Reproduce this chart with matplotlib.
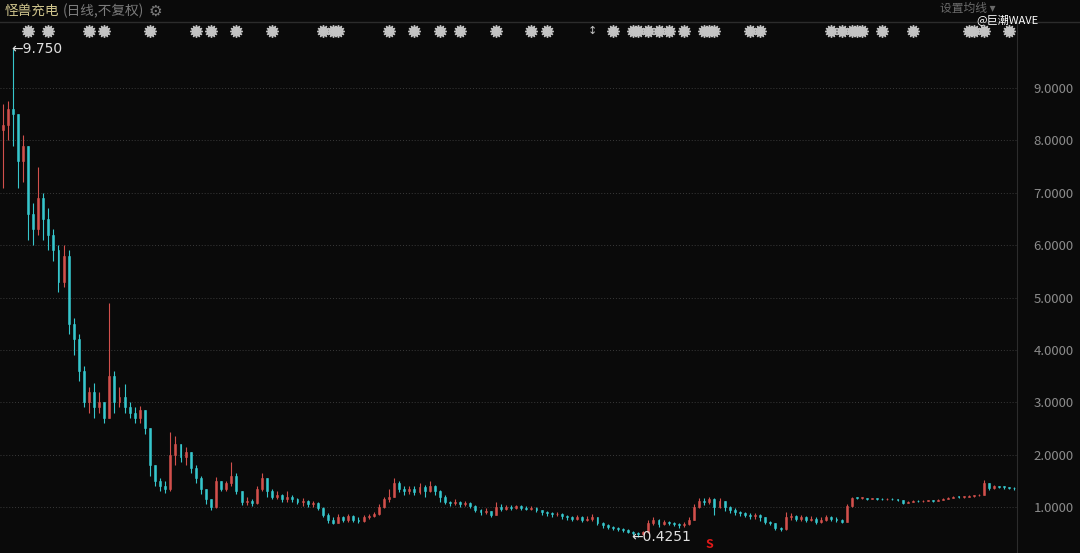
import matplotlib
matplotlib.use("Agg")
import matplotlib.pyplot as plt
from matplotlib.patches import Rectangle

plt.rcParams['font.family'] = ['Noto Sans CJK SC', 'DejaVu Sans']

# daily candles (sampled), open = previous close
first_open = 8.2
closes = [
    8.3, 8.6, 8.5, 7.6, 7.9, 6.6, 6.3, 6.9, 6.5, 6.2,
    5.9, 5.3, 5.8, 4.5, 4.2, 3.6, 3.0, 3.2, 2.9, 3.0,
    2.7, 3.5, 3.0, 3.1, 2.9, 2.8, 2.7, 2.85, 2.5, 1.8,
    1.5, 1.4, 1.35, 2.0, 2.2, 1.95, 2.05, 1.75, 1.55, 1.35,
    1.15, 1.0, 1.5, 1.35, 1.45, 1.6, 1.3, 1.1, 1.12, 1.08,
    1.35, 1.55, 1.3, 1.2, 1.22, 1.15, 1.2, 1.15, 1.1, 1.12,
    1.05, 1.08, 0.98, 0.85, 0.75, 0.7, 0.8, 0.75, 0.82, 0.76,
    0.73, 0.8, 0.83, 0.86, 1.0, 1.15, 1.2, 1.45, 1.35, 1.3,
    1.35, 1.28, 1.38, 1.3, 1.4, 1.3, 1.2, 1.1, 1.08, 1.1,
    1.05, 1.08, 1.02, 0.95, 0.9, 0.92, 0.85, 1.0, 0.97, 1.0,
    0.98, 1.01, 0.99, 0.97, 0.98, 0.94, 0.9, 0.88, 0.86, 0.87,
    0.82, 0.8, 0.78, 0.8, 0.76, 0.78, 0.8, 0.7, 0.65, 0.62,
    0.6, 0.58, 0.56, 0.53, 0.5, 0.48, 0.52, 0.7, 0.75, 0.68,
    0.72, 0.7, 0.68, 0.66, 0.68, 0.75, 1.0, 1.12, 1.1, 1.15,
    1.0, 1.12, 1.0, 0.95, 0.9, 0.88, 0.85, 0.82, 0.84, 0.8,
    0.72, 0.7, 0.6, 0.58, 0.8, 0.82, 0.78, 0.8, 0.76, 0.78,
    0.72, 0.76, 0.8, 0.78, 0.76, 0.72, 1.02, 1.18, 1.17, 1.17,
    1.16, 1.17, 1.16, 1.15, 1.16, 1.15, 1.14, 1.08, 1.1, 1.12,
    1.11, 1.12, 1.13, 1.12, 1.14, 1.15, 1.18, 1.2, 1.19, 1.2,
    1.21, 1.22, 1.23, 1.45, 1.36, 1.4, 1.39, 1.38, 1.37, 1.36,
]
highs = [
    8.7, 8.75, 9.75, 8.5, 8.1, 7.6, 6.8, 7.5, 7.0, 6.7,
    6.3, 6.0, 6.0, 5.9, 4.6, 4.3, 3.7, 3.3, 3.37, 3.2,
    3.0, 4.9, 3.6, 3.3, 3.35, 3.0, 2.9, 2.93, 2.85, 2.5,
    1.8, 1.55, 1.5, 2.43, 2.35, 2.2, 2.15, 2.05, 1.8, 1.6,
    1.35, 1.15, 1.57, 1.5, 1.5, 1.86, 1.65, 1.3, 1.2, 1.15,
    1.4, 1.65, 1.55, 1.35, 1.3, 1.25, 1.3, 1.22, 1.18, 1.17,
    1.14, 1.12, 1.1, 1.0, 0.88, 0.8, 0.87, 0.82, 0.87, 0.85,
    0.8, 0.84, 0.87, 0.9, 1.05, 1.2, 1.35, 1.55, 1.5, 1.4,
    1.4, 1.4, 1.46, 1.42, 1.5, 1.42, 1.32, 1.22, 1.12, 1.15,
    1.12, 1.12, 1.1, 1.03, 0.97, 0.98, 0.93, 1.1, 1.05, 1.04,
    1.03, 1.04, 1.03, 1.01, 1.02, 1.0, 0.95, 0.93, 0.9, 0.9,
    0.88, 0.84, 0.82, 0.84, 0.82, 0.82, 0.86, 0.8, 0.72, 0.67,
    0.64, 0.62, 0.6, 0.58, 0.55, 0.52, 0.55, 0.75, 0.8, 0.77,
    0.76, 0.74, 0.72, 0.7, 0.72, 0.8, 1.05, 1.17, 1.17, 1.19,
    1.17, 1.18, 1.12, 1.02, 0.98, 0.92, 0.9, 0.88, 0.88, 0.86,
    0.8, 0.74, 0.7, 0.62, 0.9, 0.88, 0.84, 0.84, 0.82, 0.82,
    0.8, 0.8, 0.85, 0.82, 0.8, 0.78, 1.05, 1.2, 1.19, 1.19,
    1.18, 1.18, 1.18, 1.17, 1.17, 1.17, 1.16, 1.14, 1.12, 1.13,
    1.13, 1.13, 1.14, 1.14, 1.15, 1.17, 1.19, 1.21, 1.21, 1.21,
    1.22, 1.23, 1.25, 1.51, 1.45, 1.42, 1.41, 1.4, 1.39, 1.38,
]
lows = [
    7.1, 8.0, 7.9, 7.1, 7.2, 6.1, 6.0, 6.2, 6.1, 5.9,
    5.7, 5.1, 5.2, 4.3, 3.9, 3.4, 2.9, 2.8, 2.7, 2.8,
    2.6, 2.7, 2.8, 2.9, 2.8, 2.7, 2.6, 2.6, 2.4, 1.6,
    1.4, 1.3, 1.26, 1.3, 1.8, 1.85, 1.8, 1.65, 1.45, 1.25,
    1.05, 0.94, 0.98, 1.3, 1.3, 1.4, 1.25, 1.03, 1.03, 1.02,
    1.05, 1.3, 1.2, 1.15, 1.15, 1.1, 1.1, 1.1, 1.05, 1.02,
    1.0, 1.0, 0.94, 0.8, 0.7, 0.68, 0.7, 0.72, 0.72, 0.72,
    0.7, 0.72, 0.78, 0.8, 0.85, 0.98, 1.1, 1.2, 1.28, 1.22,
    1.25, 1.22, 1.25, 1.2, 1.28, 1.22, 1.1, 1.05, 1.02, 1.03,
    1.0, 1.02, 0.98, 0.9, 0.85, 0.86, 0.8, 0.84, 0.93, 0.95,
    0.94, 0.96, 0.95, 0.94, 0.94, 0.9, 0.85, 0.83, 0.8, 0.82,
    0.78, 0.76, 0.74, 0.75, 0.72, 0.73, 0.74, 0.66, 0.6, 0.58,
    0.56, 0.54, 0.52, 0.5, 0.46, 0.4251, 0.46, 0.5, 0.66, 0.62,
    0.65, 0.65, 0.63, 0.6, 0.62, 0.66, 0.75, 0.98, 1.04, 1.05,
    0.85, 0.98, 0.92, 0.88, 0.85, 0.83, 0.8, 0.78, 0.78, 0.74,
    0.68, 0.66, 0.56, 0.55, 0.57, 0.76, 0.74, 0.74, 0.72, 0.73,
    0.68, 0.7, 0.74, 0.74, 0.72, 0.7, 0.98, 1.0, 1.15, 1.15,
    1.14, 1.15, 1.14, 1.13, 1.14, 1.13, 1.12, 1.05, 1.07, 1.09,
    1.09, 1.1, 1.11, 1.1, 1.12, 1.13, 1.15, 1.18, 1.17, 1.18,
    1.19, 1.2, 1.21, 1.22, 1.33, 1.35, 1.36, 1.35, 1.34, 1.33,
]

# event markers along the top (candle index)
star_days = [5, 9, 17, 20, 29, 38, 41, 46, 53, 63, 65, 66, 76, 81, 86, 90,
             97, 104, 107, 120, 124, 125, 127, 129, 131, 134, 138, 139, 140,
             147, 149, 163, 165, 167, 168, 169, 173, 179, 190, 191, 193, 198]
arrow_day = 116
s_day = 139

hi_val, hi_day = 9.750, 2
lo_val, lo_day = 0.4251, 125

yticks = [1, 2, 3, 4, 5, 6, 7, 8, 9]

bg = "#0a0a0a"
up_c = "#d2504c"
down_c = "#36c6cc"

fig = plt.figure(figsize=(10.8, 5.53), dpi=100, facecolor=bg)
ax = fig.add_axes([0, 0, 1017 / 1080, 531 / 553])
ax.set_facecolor(bg)

n = len(closes)
opens = [first_open] + closes[:-1]
w = 0.38
for i in range(n):
    o, c = opens[i], closes[i]
    col = up_c if c >= o else down_c
    h = max(highs[i], o, c)
    l = min(lows[i], o, c)
    ax.vlines(i, l, h, color=col, lw=0.8, zorder=2)
    body = max(abs(c - o), 0.012)
    ax.add_patch(Rectangle((i - w / 2, min(o, c)), w, body, facecolor=col,
                           edgecolor=col, lw=0.4, zorder=3))

ax.set_xlim(-0.5, n - 0.5)
ax.set_ylim(0.122, 10.26)

ax.set_yticks(yticks)
ax.set_yticklabels([f"{v:.4f}" for v in yticks])
ax.yaxis.tick_right()
ax.tick_params(axis="y", length=0, pad=12, labelsize=9.5, labelcolor="#8c8c8c")
ax.set_xticks([])
ax.grid(axis="y", color="#3a3a3a", linestyle=(0, (1, 2)), lw=0.7)
for s in ["left", "top", "bottom"]:
    ax.spines[s].set_visible(False)
ax.spines["right"].set_color("#2c2c2c")

# event markers
ax.plot(star_days, [10.09] * len(star_days), linestyle="none",
        marker=(12, 1, 0), markersize=9, color="#c4c4c4", zorder=4, clip_on=False)
ax.text(arrow_day, 10.09, "↕", color="#c4c4c4", fontsize=8, ha="center", va="center",
        family="DejaVu Sans")
ax.text(s_day, 0.29, "S", color="#e01818", fontsize=9, fontweight="bold",
        ha="center", va="center")

# max / min labels
ax.text(hi_day - 0.3, hi_val, "←9.750", color="#e0e0e0", fontsize=10,
        ha="left", va="center", family="DejaVu Sans")
ax.text(lo_day - 1.3, lo_val, "←0.4251", color="#e0e0e0", fontsize=10,
        ha="left", va="center", family="DejaVu Sans")

# header
fig.add_artist(plt.Line2D([0, 1], [1 - 22 / 553] * 2, color="#2c2c2c", lw=1))
fig.text(5 / 1080, 1 - 11 / 553, "怪兽充电", color="#cfc48c", fontsize=9.8,
         ha="left", va="center")
fig.text(63 / 1080, 1 - 11 / 553, "(日线,不复权)", color="#7c7c7c", fontsize=9.8,
         ha="left", va="center")
fig.text(149 / 1080, 1 - 11 / 553, "⚙", color="#7c7c7c", fontsize=11,
         ha="left", va="center", family="DejaVu Sans")
fig.text(940 / 1080, 1 - 8 / 553, "设置均线 ▾", color="#6a6a6a", fontsize=8.5,
         ha="left", va="center")
fig.text(976 / 1080, 1 - 20 / 553, "@巨潮WAVE", color="#ffffff", fontsize=8,
         ha="left", va="center")

fig.savefig("out.png", dpi=100, facecolor=bg)
